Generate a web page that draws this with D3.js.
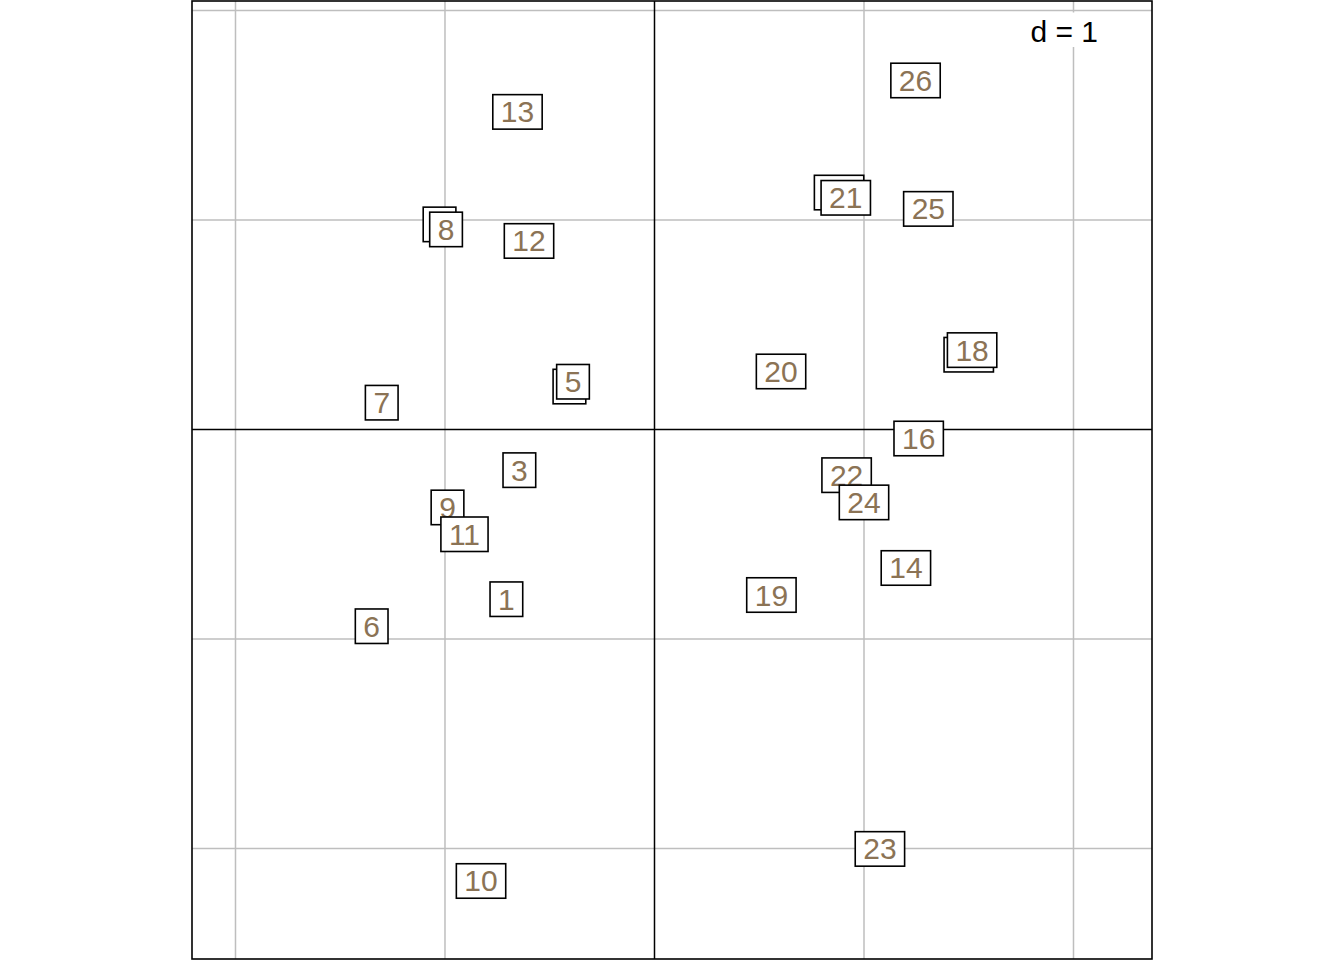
<!DOCTYPE html>
<html>
<head>
<meta charset="utf-8">
<script src="https://cdn.jsdelivr.net/npm/d3@7"></script>
<style>
html,body{margin:0;padding:0;background:#fff;}
svg{display:block;}
text{font-family:"Liberation Sans",Arial,Helvetica,sans-serif;}
</style>
</head>
<body>
<svg id="chart" width="1344" height="960"></svg>
<script>
// Point labels and coordinates (units of d)
const labels = ["1","2","3","4","5","6","7","8","9","10","11","12","13","14","15","16","17","18","19","20","21","22","23","24","25","26"];
const xValues = [-0.707,-1.026,-0.645,-0.406,-0.389,-1.350,-1.302,-0.995,-0.988,-0.828,-0.907,-0.599,-0.654,1.200,1.500,1.261,0.881,1.516,0.558,0.604,0.913,0.917,1.076,1.000,1.307,1.246];
const yValues = [-0.810,0.979,-0.194,0.205,0.228,-0.939,0.128,0.955,-0.372,-2.155,-0.500,0.900,1.516,-0.661,0.357,-0.043,1.131,0.379,-0.790,0.277,1.106,-0.218,-2.002,-0.348,1.053,1.666];
const xLimits = [-2.2076, 2.3747];
const yLimits = [-2.5274, 2.0453];
const gridTicks = [-2,-1,1,2];
const gridStep = "d = 1";

const svg = d3.select("#chart");
const x = d3.scaleLinear().domain(xLimits).range([192, 1152]);
const y = d3.scaleLinear().domain(yLimits).range([959, 1]);

// grid
const g = svg.append("g");
g.selectAll("line.gx").data(gridTicks.filter(t => x(t) > 192 && x(t) < 1152)).enter().append("line")
  .attr("x1", d => x(d)).attr("x2", d => x(d)).attr("y1", 1).attr("y2", 959)
  .attr("stroke", "#bebebe").attr("stroke-width", 1.5);
g.selectAll("line.gy").data(gridTicks.filter(t => y(t) > 1 && y(t) < 959)).enter().append("line")
  .attr("y1", d => y(d)).attr("y2", d => y(d)).attr("x1", 192).attr("x2", 1152)
  .attr("stroke", "#bebebe").attr("stroke-width", 1.5);

// origin axes
g.append("line").attr("x1", x(0)).attr("x2", x(0)).attr("y1", 1).attr("y2", 959)
  .attr("stroke", "#000").attr("stroke-width", 1.5);
g.append("line").attr("y1", y(0)).attr("y2", y(0)).attr("x1", 192).attr("x2", 1152)
  .attr("stroke", "#000").attr("stroke-width", 1.5);

// labels
const fs = 30;
const data = labels.map((l, i) => ({l, x: xValues[i], y: yValues[i]}));
const lg = svg.append("g");
data.forEach(d => {
  const gg = lg.append("g");
  const rect = gg.append("rect");
  const t = gg.append("text")
    .attr("x", x(d.x)).attr("y", y(d.y) + 10.5)
    .attr("text-anchor", "middle")
    .attr("font-size", fs)
    .attr("fill", "#8B7355")
    .text(d.l);
  const w = t.node().getComputedTextLength() + 16;
  const h = 34.5;
  rect.attr("x", x(d.x) - w / 2).attr("y", y(d.y) - h / 2)
    .attr("width", w).attr("height", h)
    .attr("fill", "#fff").attr("stroke", "#000").attr("stroke-width", 1.6);
});

// d = 1 legend
const dg = svg.append("g");
const dt = dg.append("text").attr("x", 1098).attr("y", 41.5)
  .attr("text-anchor", "end").attr("font-size", fs).attr("fill", "#000").text(gridStep);
const dw = dt.node().getComputedTextLength();
dg.insert("rect", "text").attr("x", 1098 - dw - 8).attr("y", 12.5)
  .attr("width", dw + 16).attr("height", 34.5).attr("fill", "#fff");

// frame
svg.append("rect").attr("x", 192).attr("y", 1).attr("width", 960).attr("height", 958)
  .attr("fill", "none").attr("stroke", "#000").attr("stroke-width", 1.6);
</script>
</body>
</html>
